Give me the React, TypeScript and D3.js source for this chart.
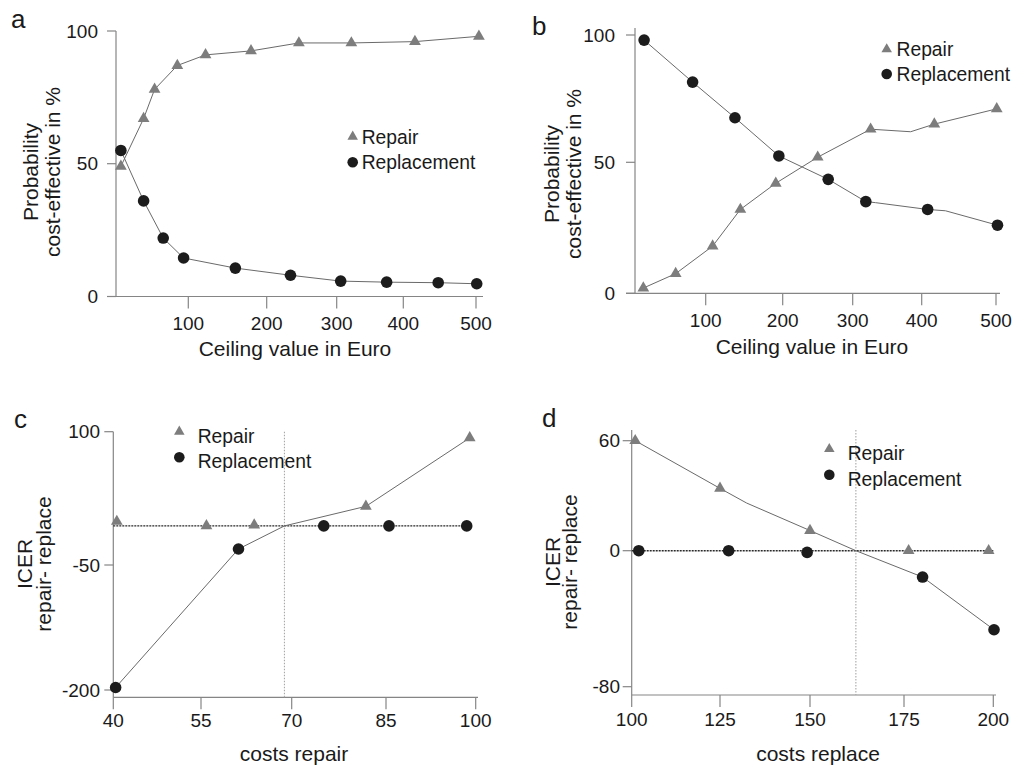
import React from "react";
import * as d3 from "d3";

// ---------- Panel a: probability cost-effective vs ceiling value ----------
const aXTicks = [100, 200, 300, 400, 500];
const aYTicks = [0, 50, 100];
const aRepairX = [14, 43, 57, 86, 122, 180, 246, 322, 416, 504];
const aRepairY = [49, 67, 78, 87, 91, 92.5, 95.5, 95.5, 96, 98];
const aReplX = [14, 43, 68, 94, 160, 234, 306, 375, 448, 501];
const aReplY = [55, 36, 22, 14.5, 10.7, 8, 5.8, 5.4, 5.2, 4.8];

// ---------- Panel b ----------
const bXTicks = [100, 200, 300, 400, 500];
const bYTicks = [0, 50, 100];
const bRepairX = [19, 61, 109, 145, 191, 250, 326, 417, 501];
const bRepairY = [2, 7.5, 18, 32, 42, 52, 63, 65, 71];
const bRepairBendX = [384];
const bRepairBendY = [62];
const bReplX = [20, 83, 138, 195, 265, 319, 408, 502];
const bReplY = [98, 81.5, 67.5, 52.5, 43.5, 35, 32, 26];
const bReplBendX = [333, 432];
const bReplBendY = [34.6, 31.5];

// ---------- Panel c: ICER vs costs repair ----------
const cXTicks = [40, 55, 70, 85, 100];
const cYTicks = [-200, -50, 100];
const cRepairX = [40.6, 55.9, 63.8, 81.8, 99];
const cRepairY = [-1, -6, -5, 16, 93];
const cReplX = [40.4, 61.2, 75.1, 85.5, 98.5];
const cReplY = [-197, -32, -6, -6, -6];
const cIcerX = [40.4, 61.2, 68.8, 81.8, 99];
const cIcerY = [-197, -32, -6, 16, 93];
const cRefY = -6;
const cRefX = [40, 98.5];
const cThreshold = 68.8;

// ---------- Panel d: ICER vs costs replace ----------
const dXTicks = [100, 125, 150, 175, 200];
const dYTicks = [-80, 0, 60];
const dRepairX = [101, 125, 150, 176.3, 198.7];
const dRepairY = [60, 34, 11, 0, 0];
const dReplX = [102, 127.4, 149.2, 180.2, 200.2];
const dReplY = [0, 0, -1, -15.5, -46.5];
const dIcerX = [101, 125, 132.4, 150, 162.2, 180.2, 200.2];
const dIcerY = [60, 34, 26, 11, 0, -15.5, -46.5];
const dRefY = 0;
const dRefX = [100, 200];
const dThreshold = 162.2;

const FONT = "'Liberation Sans', Arial, Helvetica, sans-serif";
const TEXT = "#1a1a1a";
const AXIS = "#858585";
const LINE = "#6a6a6a";
const TRI = "#7d7d7d";
const DOT = "#1c1c1c";

const zip = (xs: number[], ys: number[]) => xs.map((v, i) => [v, ys[i]] as [number, number]);
const merge = (a: [number, number][], b: [number, number][]) => [...a, ...b].sort((p, q) => p[0] - q[0]);

type PanelCfg = {
  letter: string;
  letterPos: [number, number];
  xTicks: number[];
  xTickPx: number[];
  yTicks: number[];
  yTickPx: number[];
  yAxisX: number;
  xAxisY: number;
  xAxisFrom: number;
  xAxisTo: number;
  yAxisTop: number;
  xLabelBase: number;
  yLabelEnd: number;
  yTitle: [string, string];
  yTitleX: [number, number];
  yTitleCY: number;
  xTitle: string;
  xTitlePos: [number, number];
  repair: [number, number][];
  repl: [number, number][];
  lines: [number, number][][];
  ref?: { y: number; x: number[] };
  threshold?: number;
  legend: { mx: number; triY: number; dotY: number; tx: number; b1: number; b2: number };
};

const panels: PanelCfg[] = [
  {
    letter: "a",
    letterPos: [11, 28],
    xTicks: aXTicks,
    xTickPx: [188.3, 266.7, 336.7, 403.3, 476],
    yTicks: aYTicks,
    yTickPx: [296.5, 163.7, 31],
    yAxisX: 116,
    xAxisY: 296.5,
    xAxisFrom: 107,
    xAxisTo: 483,
    yAxisTop: 31,
    xLabelBase: 330,
    yLabelEnd: 98,
    yTitle: ["Probability", "cost-effective in %"],
    yTitleX: [38, 60],
    yTitleCY: 172,
    xTitle: "Ceiling value in Euro",
    xTitlePos: [295, 356],
    repair: zip(aRepairX, aRepairY),
    repl: zip(aReplX, aReplY),
    lines: [zip(aRepairX, aRepairY), zip(aReplX, aReplY)],
    legend: { mx: 352.7, triY: 136.7, dotY: 162.3, tx: 361.7, b1: 144.3, b2: 169.3 },
  },
  {
    letter: "b",
    letterPos: [532, 35],
    xTicks: bXTicks,
    xTickPx: [705.7, 782.7, 852.7, 921.7, 996],
    yTicks: bYTicks,
    yTickPx: [293.3, 162.3, 35],
    yAxisX: 635,
    xAxisY: 293.3,
    xAxisFrom: 626,
    xAxisTo: 1000,
    yAxisTop: 28,
    xLabelBase: 327,
    yLabelEnd: 615,
    yTitle: ["Probability", "cost-effective in %"],
    yTitleX: [559, 581],
    yTitleCY: 174,
    xTitle: "Ceiling value in Euro",
    xTitlePos: [812, 354],
    repair: zip(bRepairX, bRepairY),
    repl: zip(bReplX, bReplY),
    lines: [
      merge(zip(bRepairX, bRepairY), zip(bRepairBendX, bRepairBendY)),
      merge(zip(bReplX, bReplY), zip(bReplBendX, bReplBendY)),
    ],
    legend: { mx: 886.7, triY: 49.3, dotY: 74, tx: 896.5, b1: 56, b2: 81 },
  },
  {
    letter: "c",
    letterPos: [14, 428],
    xTicks: cXTicks,
    xTickPx: [113.3, 201, 291.7, 386, 475.7],
    yTicks: cYTicks,
    yTickPx: [690, 565, 431.7],
    yAxisX: 113.3,
    xAxisY: 697.3,
    xAxisFrom: 113.3,
    xAxisTo: 478,
    yAxisTop: 431.7,
    xLabelBase: 727,
    yLabelEnd: 100,
    yTitle: ["ICER", "repair- replace"],
    yTitleX: [32, 51],
    yTitleCY: 564,
    xTitle: "costs repair",
    xTitlePos: [294, 761],
    repair: zip(cRepairX, cRepairY),
    repl: zip(cReplX, cReplY),
    lines: [zip(cIcerX, cIcerY)],
    ref: { y: cRefY, x: cRefX },
    threshold: cThreshold,
    legend: { mx: 179.3, triY: 431.7, dotY: 457.3, tx: 197.7, b1: 443.3, b2: 468.3 },
  },
  {
    letter: "d",
    letterPos: [542, 427],
    xTicks: dXTicks,
    xTickPx: [631.7, 720, 810, 904, 993.3],
    yTicks: dYTicks,
    yTickPx: [686.7, 550.7, 440.7],
    yAxisX: 631.7,
    xAxisY: 695,
    xAxisFrom: 631.7,
    xAxisTo: 996,
    yAxisTop: 430,
    xLabelBase: 726,
    yLabelEnd: 620,
    yTitle: ["ICER", "repair- replace"],
    yTitleX: [560, 577],
    yTitleCY: 562,
    xTitle: "costs replace",
    xTitlePos: [818, 761],
    repair: zip(dRepairX, dRepairY),
    repl: zip(dReplX, dReplY),
    lines: [zip(dIcerX, dIcerY)],
    ref: { y: dRefY, x: dRefX },
    threshold: dThreshold,
    legend: { mx: 829.3, triY: 449, dotY: 474.7, tx: 847.7, b1: 460, b2: 485.7 },
  },
];

const triPath = d3.symbol().type(d3.symbolTriangle).size(60)() as string;
const triLegend = d3.symbol().type(d3.symbolTriangle).size(48)() as string;

function Panel({ cfg }: { cfg: PanelCfg }) {
  const x = d3.scaleLinear().domain(cfg.xTicks).range(cfg.xTickPx);
  const y = d3.scaleLinear().domain(cfg.yTicks).range(cfg.yTickPx);
  const line = d3
    .line<[number, number]>()
    .x((d) => x(d[0]))
    .y((d) => y(d[1]));
  const L = cfg.legend;
  return (
    <g>
      <text x={cfg.letterPos[0]} y={cfg.letterPos[1]} fontSize={26} fill={TEXT} fontFamily={FONT}>
        {cfg.letter}
      </text>
      <line x1={cfg.yAxisX} x2={cfg.yAxisX} y1={cfg.yAxisTop} y2={cfg.xAxisY} stroke={AXIS} strokeWidth={1.2} />
      <line x1={cfg.xAxisFrom} x2={cfg.xAxisTo} y1={cfg.xAxisY} y2={cfg.xAxisY} stroke={AXIS} strokeWidth={1.2} />
      {cfg.xTicks.map((t) => (
        <g key={"xt" + t}>
          <line x1={x(t)} x2={x(t)} y1={cfg.xAxisY} y2={cfg.xAxisY + 12} stroke={AXIS} strokeWidth={1.2} />
          <text x={x(t)} y={cfg.xLabelBase} textAnchor="middle" fontSize={19} fill={TEXT} fontFamily={FONT}>
            {t}
          </text>
        </g>
      ))}
      {cfg.yTicks.map((t) => (
        <g key={"yt" + t}>
          <line x1={cfg.yAxisX - 9} x2={cfg.yAxisX} y1={y(t)} y2={y(t)} stroke={AXIS} strokeWidth={1.2} />
          <text
            x={cfg.yLabelEnd}
            y={y(t)}
            dy="0.35em"
            textAnchor="end"
            fontSize={19}
            fill={TEXT}
            fontFamily={FONT}
          >
            {t}
          </text>
        </g>
      ))}
      {cfg.yTitle.map((s, i) => (
        <text
          key={"yti" + i}
          transform={`translate(${cfg.yTitleX[i]},${cfg.yTitleCY}) rotate(-90)`}
          textAnchor="middle"
          fontSize={21}
          fill={TEXT}
          fontFamily={FONT}
        >
          {s}
        </text>
      ))}
      <text
        x={cfg.xTitlePos[0]}
        y={cfg.xTitlePos[1]}
        textAnchor="middle"
        fontSize={21}
        fill={TEXT}
        fontFamily={FONT}
      >
        {cfg.xTitle}
      </text>
      {cfg.threshold !== undefined && (
        <line
          x1={x(cfg.threshold)}
          x2={x(cfg.threshold)}
          y1={cfg.yAxisTop}
          y2={cfg.xAxisY}
          stroke="#a8a8a8"
          strokeWidth={1.1}
          strokeDasharray="1.5,1.5"
        />
      )}
      {cfg.ref && (
        <line
          x1={x(cfg.ref.x[0])}
          x2={x(cfg.ref.x[1])}
          y1={y(cfg.ref.y)}
          y2={y(cfg.ref.y)}
          stroke="#2a2a2a"
          strokeWidth={1.4}
          strokeDasharray="2,1"
        />
      )}
      {cfg.lines.map((pts, i) => (
        <path key={"ln" + i} d={line(pts) || ""} fill="none" stroke={LINE} strokeWidth={1} />
      ))}
      {cfg.repair.map((p, i) => (
        <path key={"tr" + i} d={triPath} transform={`translate(${x(p[0])},${y(p[1])})`} fill={TRI} />
      ))}
      {cfg.repl.map((p, i) => (
        <circle key={"ci" + i} cx={x(p[0])} cy={y(p[1])} r={5.8} fill={DOT} />
      ))}
      <path d={triLegend} transform={`translate(${L.mx},${L.triY})`} fill={TRI} />
      <circle cx={L.mx} cy={L.dotY} r={5.3} fill={DOT} />
      <text x={L.tx} y={L.b1} fontSize={19.3} fill={TEXT} fontFamily={FONT}>
        Repair
      </text>
      <text x={L.tx} y={L.b2} fontSize={19.3} fill={TEXT} fontFamily={FONT}>
        Replacement
      </text>
    </g>
  );
}

export default function App() {
  return (
    <svg
      width={1014}
      height={765}
      viewBox="0 0 1014 765"
      style={{ position: "absolute", left: 0, top: 0, background: "#fff" }}
    >
      <rect width={1014} height={765} fill="#fff" />
      {panels.map((p) => (
        <Panel key={p.letter} cfg={p} />
      ))}
    </svg>
  );
}
